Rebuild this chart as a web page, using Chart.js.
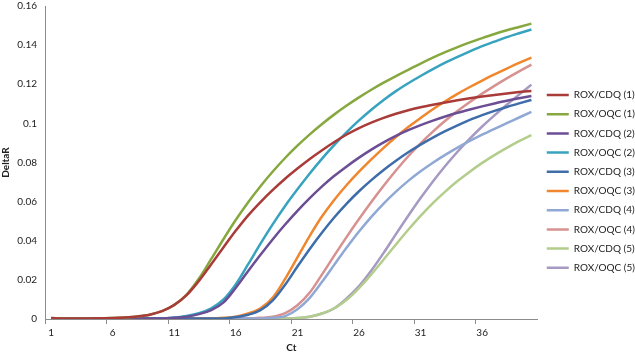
<!DOCTYPE html>
<html>
<head>
<meta charset="utf-8">
<script src="https://cdn.jsdelivr.net/npm/chart.js@4"></script>
<style>
  body { margin: 0; background: #fff; }
  canvas { display: block; }
</style>
</head>
<body>
<canvas id="chart" width="635" height="355"></canvas>
<script>
// cycles on the x axis
const cycles = [1, 2, 3, 4, 5, 6, 7, 8, 9, 10, 11, 12, 13, 14, 15, 16, 17, 18, 19, 20,
    21, 22, 23, 24, 25, 26, 27, 28, 29, 30, 31, 32, 33, 34, 35, 36, 37, 38, 39, 40];

const seriesNames = ['ROX/CDQ (1)', 'ROX/OQC (1)', 'ROX/CDQ (2)', 'ROX/OQC (2)', 'ROX/CDQ (3)',
    'ROX/OQC (3)', 'ROX/CDQ (4)', 'ROX/OQC (4)', 'ROX/CDQ (5)', 'ROX/OQC (5)'];

const yTicks = [0, 0.02, 0.04, 0.06, 0.08, 0.1, 0.12, 0.14, 0.16];

// DeltaR per cycle
const cdq1 = [0.0005, 0.0003, 0.0003, 0.0003, 0.0004, 0.0005, 0.0008, 0.0013, 0.0022, 0.004,
    0.0072, 0.0122, 0.0195, 0.028, 0.0367, 0.0452, 0.053, 0.0598, 0.066, 0.0717,
    0.0769, 0.0818, 0.0863, 0.0905, 0.0943, 0.0976, 0.1004, 0.1028, 0.1049, 0.1067,
    0.1082, 0.1095, 0.1107, 0.1118, 0.1128, 0.1137, 0.1145, 0.1153, 0.116, 0.1166];
const oqc1 = [0.0005, 0.0003, 0.0003, 0.0003, 0.0004, 0.0005, 0.0008, 0.0013, 0.0022, 0.004,
    0.0072, 0.0125, 0.0207, 0.0307, 0.0409, 0.0507, 0.0597, 0.0679, 0.0754, 0.0823,
    0.0886, 0.0944, 0.0997, 0.1046, 0.1091, 0.1133, 0.1172, 0.1208, 0.1242, 0.1274,
    0.1306, 0.1336, 0.1364, 0.139, 0.1414, 0.1436, 0.1457, 0.1476, 0.1493, 0.151];
const cdq2 = [0.0003, 0.0003, 0.0003, 0.0003, 0.0003, 0.0003, 0.0003, 0.0003, 0.0003, 0.0003,
    0.0006, 0.0012, 0.0025, 0.0045, 0.0085, 0.016, 0.0245, 0.0328, 0.0408, 0.0483,
    0.0553, 0.0618, 0.0678, 0.0732, 0.078, 0.0825, 0.0866, 0.0903, 0.0936, 0.0965,
    0.0991, 0.1014, 0.1035, 0.1054, 0.1071, 0.1087, 0.1102, 0.1116, 0.1128, 0.114];
const oqc2 = [0.0003, 0.0003, 0.0003, 0.0003, 0.0003, 0.0003, 0.0003, 0.0003, 0.0003, 0.0003,
    0.0008, 0.0016, 0.003, 0.0055, 0.01, 0.0178, 0.028, 0.0385, 0.0485, 0.0578,
    0.0663, 0.0744, 0.082, 0.089, 0.0955, 0.1015, 0.107, 0.112, 0.1165, 0.1205,
    0.1242, 0.1277, 0.131, 0.134, 0.1368, 0.1395, 0.1418, 0.1441, 0.1461, 0.148];
const cdq3 = [0.0003, 0.0003, 0.0003, 0.0003, 0.0003, 0.0003, 0.0003, 0.0003, 0.0003, 0.0003,
    0.0003, 0.0003, 0.0003, 0.0003, 0.0003, 0.001, 0.0022, 0.0045, 0.0095, 0.0175,
    0.0268, 0.0358, 0.0442, 0.052, 0.059, 0.0653, 0.071, 0.0762, 0.0809, 0.0852,
    0.0891, 0.0927, 0.096, 0.099, 0.1018, 0.1042, 0.1064, 0.1084, 0.1102, 0.112];
const oqc3 = [0.0003, 0.0003, 0.0003, 0.0003, 0.0003, 0.0003, 0.0003, 0.0003, 0.0003, 0.0003,
    0.0003, 0.0003, 0.0003, 0.0003, 0.0006, 0.0012, 0.0028, 0.0055, 0.011, 0.0205,
    0.0315, 0.0425, 0.0525, 0.061, 0.0685, 0.0753, 0.0816, 0.0875, 0.093, 0.0981,
    0.1028, 0.1072, 0.1113, 0.1151, 0.1186, 0.1219, 0.125, 0.128, 0.1309, 0.1336];
const cdq4 = [0.0003, 0.0003, 0.0003, 0.0003, 0.0003, 0.0003, 0.0003, 0.0003, 0.0003, 0.0003,
    0.0003, 0.0003, 0.0003, 0.0003, 0.0003, 0.0003, 0.0003, 0.0003, 0.0006, 0.0015,
    0.005, 0.0108, 0.019, 0.0278, 0.0365, 0.0447, 0.0522, 0.059, 0.0651, 0.0706,
    0.0755, 0.0799, 0.0839, 0.0876, 0.091, 0.0942, 0.0972, 0.1001, 0.103, 0.1059];
const oqc4 = [0.0003, 0.0003, 0.0003, 0.0003, 0.0003, 0.0003, 0.0003, 0.0003, 0.0003, 0.0003,
    0.0003, 0.0003, 0.0003, 0.0003, 0.0003, 0.0003, 0.0003, 0.0006, 0.0012, 0.003,
    0.007, 0.0135, 0.0228, 0.0325, 0.042, 0.0511, 0.0598, 0.0681, 0.0759, 0.0832,
    0.0898, 0.0958, 0.1013, 0.1063, 0.1109, 0.1152, 0.1192, 0.123, 0.1266, 0.13];
const cdq5 = [0.0002, 0.0002, 0.0002, 0.0002, 0.0002, 0.0002, 0.0002, 0.0002, 0.0002, 0.0002,
    0.0002, 0.0002, 0.0002, 0.0002, 0.0002, 0.0002, 0.0002, 0.0002, 0.0002, 0.0002,
    0.0005, 0.0012, 0.0028, 0.0055, 0.0098, 0.0158, 0.0228, 0.0304, 0.0381, 0.0456,
    0.0527, 0.0592, 0.0651, 0.0705, 0.0753, 0.0798, 0.0838, 0.0875, 0.0909, 0.094];
const oqc5 = [0.0002, 0.0002, 0.0002, 0.0002, 0.0002, 0.0002, 0.0002, 0.0002, 0.0002, 0.0002,
    0.0002, 0.0002, 0.0002, 0.0002, 0.0002, 0.0002, 0.0002, 0.0002, 0.0002, 0.0002,
    0.0005, 0.0012, 0.0028, 0.0055, 0.0105, 0.0168, 0.0248, 0.0338, 0.0434, 0.0528,
    0.0618, 0.0703, 0.0782, 0.0855, 0.0922, 0.0984, 0.1041, 0.1095, 0.1147, 0.1198];

const seriesValues = [cdq1, oqc1, cdq2, oqc2, cdq3, oqc3, cdq4, oqc4, cdq5, oqc5];
const seriesColors = ['#A93B38', '#86A83F', '#6B4E94', '#37A3BF', '#3F6DA9',
    '#F0872E', '#90A8D4', '#D69190', '#B3CD8C', '#A699C2'];

const font = { family: 'Lato, Carlito, "Liberation Sans", sans-serif', size: 10 };
const boldFont = { family: font.family, size: 10, weight: 'bold' };
const axisColor = '#8c8c8c';

var ctx = document.getElementById('chart').getContext('2d');
var chart = new Chart(ctx, {
    type: 'line',
    data: {
        labels: cycles,
        datasets: seriesNames.map((name, i) => ({
            label: name,
            data: seriesValues[i],
            borderColor: seriesColors[i],
            backgroundColor: seriesColors[i],
            borderWidth: 2.5,
            pointRadius: 0,
            cubicInterpolationMode: 'monotone',
            fill: false
        }))
    },
    options: {
        responsive: false,
        animation: false,
        devicePixelRatio: 1,
        layout: { padding: { top: 0, right: -10, left: 0, bottom: 0 } },
        plugins: {
            tooltip: { enabled: false },
            legend: {
                position: 'right',
                // empty title only pushes the legend rows down a little
                title: { display: true, text: '', font: { family: font.family, size: 6.5 }, padding: 0 },
                labels: {
                    font: font,
                    color: '#222',
                    usePointStyle: true,
                    pointStyle: 'line',
                    pointStyleWidth: 22,
                    padding: 9.2
                }
            }
        },
        scales: {
            x: {
                type: 'category',
                offset: true,
                grid: {
                    offset: true,
                    drawOnChartArea: false,
                    tickLength: 5,
                    color: c => (c.index % 5 === 0 ? axisColor : 'rgba(0,0,0,0)')
                },
                border: { color: axisColor, width: 1 },
                ticks: {
                    autoSkip: false,
                    maxRotation: 0,
                    font: font,
                    color: '#222',
                    padding: 3,
                    callback: (v, i) => (i % 5 === 0 ? cycles[i] : '')
                },
                title: {
                    display: true,
                    text: 'Ct',
                    font: boldFont,
                    color: '#222',
                    padding: { top: 0, bottom: 1 }
                }
            },
            y: {
                min: 0,
                max: 0.16,
                afterBuildTicks: axis => { axis.ticks = yTicks.map(v => ({ value: v })); },
                afterFit: axis => {
                    axis.width = 45;
                    axis.paddingTop = 6;
                },
                grid: { display: false, drawTicks: false },
                border: { color: axisColor, width: 1 },
                ticks: {
                    font: font,
                    color: '#222',
                    padding: 8,
                    callback: v => String(+v.toFixed(2))
                },
                title: {
                    display: true,
                    text: 'DeltaR',
                    font: boldFont,
                    color: '#222',
                    padding: { top: 0, bottom: 0 }
                }
            }
        }
    }
});
</script>
</body>
</html>
